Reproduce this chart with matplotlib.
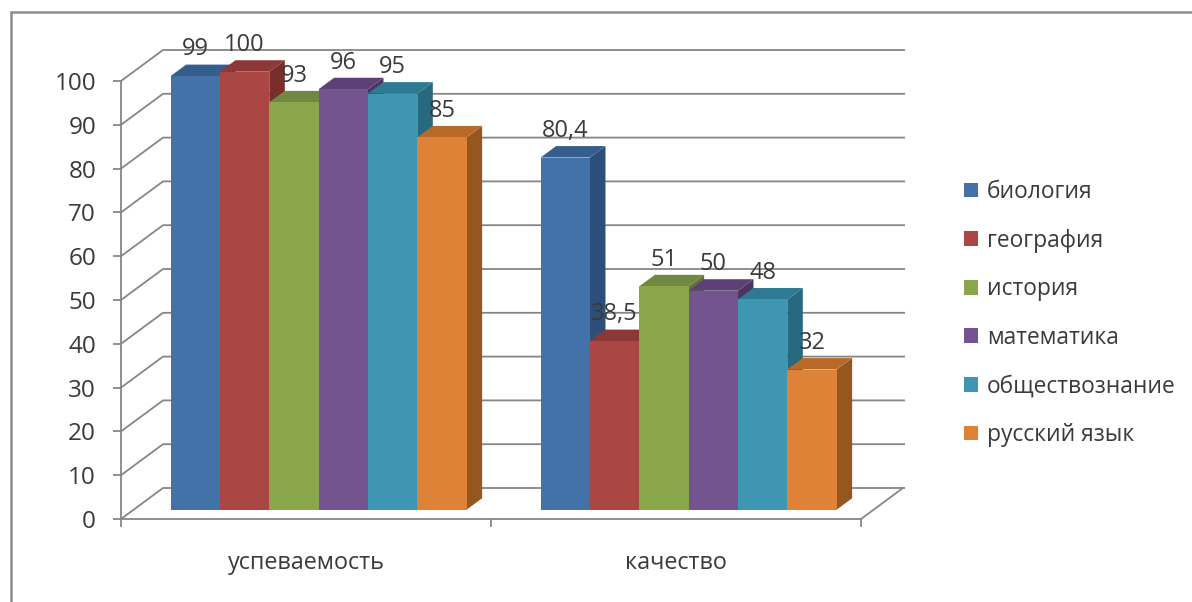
import matplotlib
matplotlib.use("Agg")
import matplotlib.pyplot as plt
from matplotlib.patches import Patch, Polygon, Rectangle

plt.rcParams['font.family'] = ['Open Sans', 'DejaVu Sans']

categories = ["успеваемость", "качество"]
subjects = ["биология", "география", "история", "математика", "обществознание", "русский язык"]
values = {
    "биология": [99, 80.4],
    "география": [100, 38.5],
    "история": [93, 51],
    "математика": [96, 50],
    "обществознание": [95, 48],
    "русский язык": [85, 32],
}
front_colors = ["#4372A8", "#AA4643", "#8AA64C", "#73548F", "#3F96B2", "#DE8237"]
top_colors = ["#365E8D", "#8C3836", "#6F8A40", "#5C4076", "#2F7A93", "#B96A28"]
side_colors = ["#2D4E79", "#7A2E2C", "#5E7535", "#4D3562", "#27697F", "#96571F"]

grid_color = "#868686"
text_color = "#3A3A3A"
W, H = 1192, 602

# depth of the fake 3d box, in data units
depth_x = 42 / 370
depth_y = 31 / 4.38
bar_front = 0.3
bar_back = 0.67
gap = 0.1
bar_w = (1 - 2 * gap) / len(subjects)

fig = plt.figure(figsize=(W / 100, H / 100), dpi=100)
fig.add_artist(Rectangle((10.5 / W, -0.02), 1.1, 1 - 12 / H + 0.02, transform=fig.transFigure,
                         fill=False, edgecolor="#8C8C8C", linewidth=1.8))

ax = fig.add_axes([121 / W, (H - 519) / H, 740 / W, 438 / H])
ax.set_xlim(0, 2)
ax.set_ylim(0, 100)
ax.patch.set_visible(False)

for s in ["top", "right"]:
    ax.spines[s].set_visible(False)
for s in ["left", "bottom"]:
    ax.spines[s].set_color(grid_color)
    ax.spines[s].set_linewidth(1.3)

ax.set_yticks(range(0, 101, 10))
ax.set_xticks([0, 1, 2])
ax.set_xticklabels([])
ax.set_xticks([0.5, 1.5], minor=True)
ax.set_xticklabels(categories, minor=True)
ax.tick_params(axis="y", length=6, width=1.3, color=grid_color, pad=12, labelsize=17.5, labelcolor=text_color)
ax.tick_params(axis="x", which="major", length=6, width=1.3, color=grid_color)
ax.tick_params(axis="x", which="minor", length=0, pad=23, labelsize=16.8, labelcolor=text_color)

# walls
for v in range(0, 101, 10):
    ax.plot([0, depth_x, 2 + depth_x + 0.003], [v, v + depth_y, v + depth_y], color=grid_color,
            lw=1.3, clip_on=False, zorder=1)
ax.plot([2, 2 + depth_x], [0, depth_y], color=grid_color, lw=1.3, clip_on=False, zorder=1)

# bars
for c in range(len(categories)):
    for i, name in enumerate(subjects):
        v = values[name][c]
        x0 = c + gap + i * bar_w
        x1 = x0 + bar_w
        fx, fy = bar_front * depth_x, bar_front * depth_y
        bx, by = bar_back * depth_x, bar_back * depth_y
        z = 3 + c * 10 + i
        ax.add_patch(Polygon([(x1 + fx, fy), (x1 + bx, by), (x1 + bx, v + by), (x1 + fx, v + fy)],
                             facecolor=side_colors[i], edgecolor="none", clip_on=False, zorder=z))
        ax.add_patch(Polygon([(x0 + fx, v + fy), (x0 + bx, v + by), (x1 + bx, v + by), (x1 + fx, v + fy)],
                             facecolor=top_colors[i], edgecolor="none", clip_on=False, zorder=z))
        ax.add_patch(Rectangle((x0 + fx, fy), bar_w, v, facecolor=front_colors[i], edgecolor="none",
                               clip_on=False, zorder=z))
        ax.text((x0 + x1) / 2 + fx, v + fy + 6.1, str(v).replace(".", ","), ha="center", va="center",
                fontsize=17, color=text_color, zorder=50, clip_on=False)

handles = [Patch(facecolor=front_colors[i], edgecolor="none", label=subjects[i]) for i in range(len(subjects))]
fig.legend(handles=handles, loc="upper left", bbox_to_anchor=(964 / W, 1 - 180 / H), frameon=False,
           fontsize=16.4, labelcolor=text_color, handlelength=0.62, handleheight=0.62,
           handletextpad=0.4, labelspacing=1.08, borderpad=0, borderaxespad=0)

fig.savefig("out.png", dpi=100)
